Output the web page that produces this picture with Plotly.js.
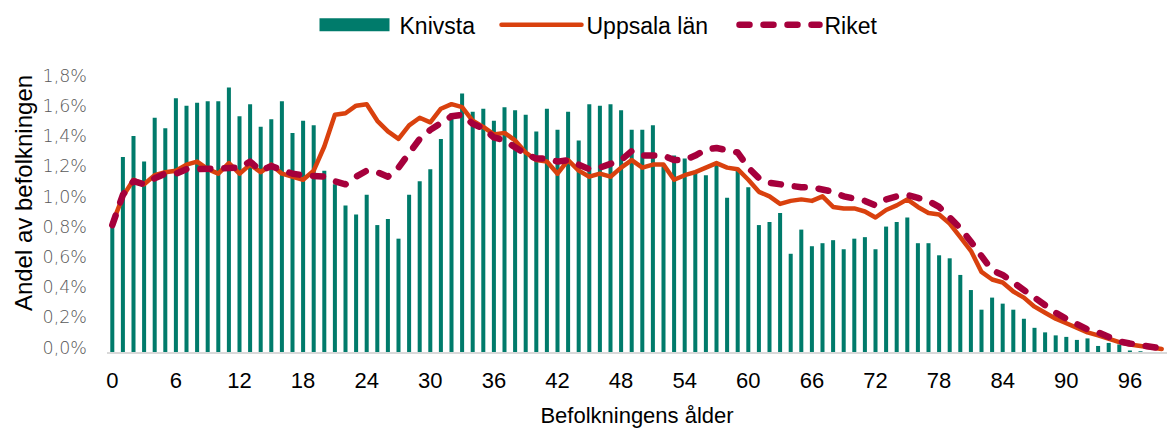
<!DOCTYPE html>
<html>
<head>
<meta charset="utf-8">
<script src="https://cdn.plot.ly/plotly-3.0.1.min.js"></script>
<style>
html,body{margin:0;padding:0;background:#fff;}
#chart{width:1167px;height:428px;}
</style>
</head>
<body>
<div id="chart"></div>
<script>
const ages = Array.from({length: 100}, (_, i) => i);

const knivsta = [
0.84,1.29,1.43,1.26,1.55,1.48,1.68,1.63,1.65,1.66,
1.66,1.75,1.56,1.64,1.49,1.54,1.66,1.45,1.53,1.50,
1.20,1.11,0.97,0.91,1.04,0.84,0.88,0.75,1.04,1.13,
1.21,1.41,1.58,1.71,1.59,1.61,1.53,1.62,1.60,1.57,
1.46,1.61,1.47,1.59,1.40,1.64,1.63,1.64,1.60,1.47,
1.47,1.50,1.23,1.30,1.28,1.20,1.17,1.25,1.02,1.20,
1.09,0.84,0.86,0.92,0.65,0.81,0.70,0.72,0.74,0.68,
0.75,0.76,0.68,0.83,0.86,0.89,0.72,0.72,0.64,0.62,
0.51,0.41,0.28,0.36,0.32,0.28,0.22,0.16,0.13,0.11,
0.10,0.08,0.09,0.04,0.06,0.05,0.01,0.005,0,0
];

const uppsala = [
0.85,1.03,1.14,1.11,1.17,1.19,1.20,1.24,1.26,1.21,
1.18,1.25,1.18,1.24,1.19,1.24,1.18,1.16,1.14,1.20,
1.36,1.57,1.58,1.63,1.64,1.53,1.46,1.41,1.50,1.55,
1.52,1.61,1.64,1.62,1.53,1.49,1.44,1.45,1.40,1.32,
1.27,1.26,1.18,1.27,1.20,1.16,1.18,1.16,1.22,1.27,
1.22,1.24,1.24,1.14,1.17,1.19,1.22,1.25,1.22,1.21,
1.14,1.06,1.03,0.98,1.00,1.01,1.00,1.03,0.96,0.95,
0.95,0.93,0.89,0.94,0.97,1.01,0.96,0.92,0.91,0.85,
0.76,0.67,0.53,0.48,0.46,0.40,0.36,0.30,0.26,0.22,
0.19,0.16,0.13,0.11,0.087,0.065,0.049,0.038,0.028,0.02
];

const riket = [
0.84,1.04,1.13,1.11,1.15,1.18,1.18,1.21,1.21,1.21,
1.21,1.22,1.22,1.26,1.20,1.23,1.20,1.18,1.17,1.16,
1.16,1.13,1.11,1.16,1.20,1.19,1.16,1.22,1.32,1.41,
1.47,1.51,1.56,1.57,1.51,1.48,1.42,1.40,1.35,1.31,
1.28,1.28,1.26,1.27,1.24,1.21,1.22,1.24,1.27,1.33,
1.30,1.30,1.30,1.27,1.27,1.30,1.34,1.35,1.34,1.32,
1.22,1.15,1.12,1.11,1.09,1.09,1.09,1.08,1.06,1.03,
1.02,1.00,0.97,1.01,1.03,1.04,1.02,1.00,0.96,0.89,
0.82,0.73,0.63,0.54,0.51,0.46,0.41,0.35,0.30,0.26,
0.22,0.18,0.15,0.13,0.10,0.07,0.056,0.043,0.032,0.023
];

const xTicks = [0,6,12,18,24,30,36,42,48,54,60,66,72,78,84,90,96];
const yTicks = [0,0.2,0.4,0.6,0.8,1.0,1.2,1.4,1.6,1.8];
const yTickText = ['0,0%','0,2%','0,4%','0,6%','0,8%','1,0%','1,2%','1,4%','1,6%','1,8%'];

const font = "Liberation Sans, Arial, sans-serif";
const ITEMW = 80;
const PLOT_L = 107, PLOT_W = 1060, PLOT_B = 352.5, PLOT_H = 273;

function legendAt(px) {
  return {orientation:'h', x:(px - PLOT_L) / PLOT_W, xanchor:'left',
          y:(PLOT_B - 24) / PLOT_H, yanchor:'middle',
          font:{family:font, size:23, color:'#000'}, itemwidth:ITEMW,
          bgcolor:'rgba(0,0,0,0)', borderwidth:0};
}

const traces = [
  {type:'bar', name:'Knivsta', x:ages, y:knivsta, legend:'legend',
   marker:{color:'#007B6B'}},
  {type:'scatter', mode:'lines', name:'Uppsala län', x:ages, y:uppsala, legend:'legend2',
   line:{color:'#D9410E', width:4.5}},
  {type:'scatter', mode:'lines', name:'Riket', x:ages, y:riket, legend:'legend3',
   line:{color:'#A6003C', width:6.5, dash:'10px,14px'}}
];

const layout = {
  width:1167, height:428,
  margin:{l:PLOT_L, r:0, t:79.5, b:75.5, pad:0},
  paper_bgcolor:'#fff', plot_bgcolor:'#fff',
  bargap:0.62,
  font:{family:font, color:'#000'},
  showlegend:true,
  legend:legendAt(309.5),
  legend2:legendAt(496.5),
  legend3:legendAt(734.5),
  xaxis:{range:[-0.5, 99.5], tickvals:xTicks, ticktext:xTicks.map(String),
         showgrid:false, zeroline:false, showline:true, linecolor:'#D9D9D9', linewidth:1.5,
         ticks:'', ticklabelstandoff:8, tickfont:{family:font, size:22, color:'#000'},
         title:{text:'Befolkningens ålder', font:{family:font, size:22, color:'#000'}, standoff:15}},
  yaxis:{range:[0, 1.8], tickvals:yTicks, ticktext:yTickText,
         showgrid:false, zeroline:false, showline:false, ticks:'', ticklabelstandoff:19,
         tickfont:{family:'DejaVu Sans', weight:200, size:17.5, color:'#595959'}},
  annotations:[{text:'Andel av befolkningen', textangle:-90, xref:'paper', yref:'paper',
                x:(23-PLOT_L)/PLOT_W, y:(PLOT_B-193)/PLOT_H, xanchor:'center', yanchor:'middle', showarrow:false,
                font:{family:font, size:24, color:'#000'}}]
};

function restyleDom() {
  document.querySelectorAll('.scatterlayer .js-line, .infolayer .js-line').forEach(p => {
    p.style.strokeLinecap = 'round';
    p.style.strokeLinejoin = 'round';
  });
  const half = (ITEMW - 10) / 2;
  const barItem = document.querySelector('.infolayer g.legend .traces');
  if (barItem) {
    barItem.querySelectorAll('.legendpoints path').forEach(p => {
      p.setAttribute('d', `M${-half},6.5H${half}V-6.5H${-half}Z`);
    });
  }
  document.querySelectorAll('.ytick text').forEach(t => {
    if (t.dataset.baseTr === undefined) t.dataset.baseTr = t.getAttribute('transform') || '';
    t.setAttribute('transform', t.dataset.baseTr + ' translate(0,-4.5)');
  });
}

const gd = document.getElementById('chart');
Plotly.newPlot(gd, traces, layout, {displayModeBar:false, staticPlot:true}).then(() => {
  restyleDom();
  gd.on('plotly_afterplot', restyleDom);
});
</script>
</body>
</html>
